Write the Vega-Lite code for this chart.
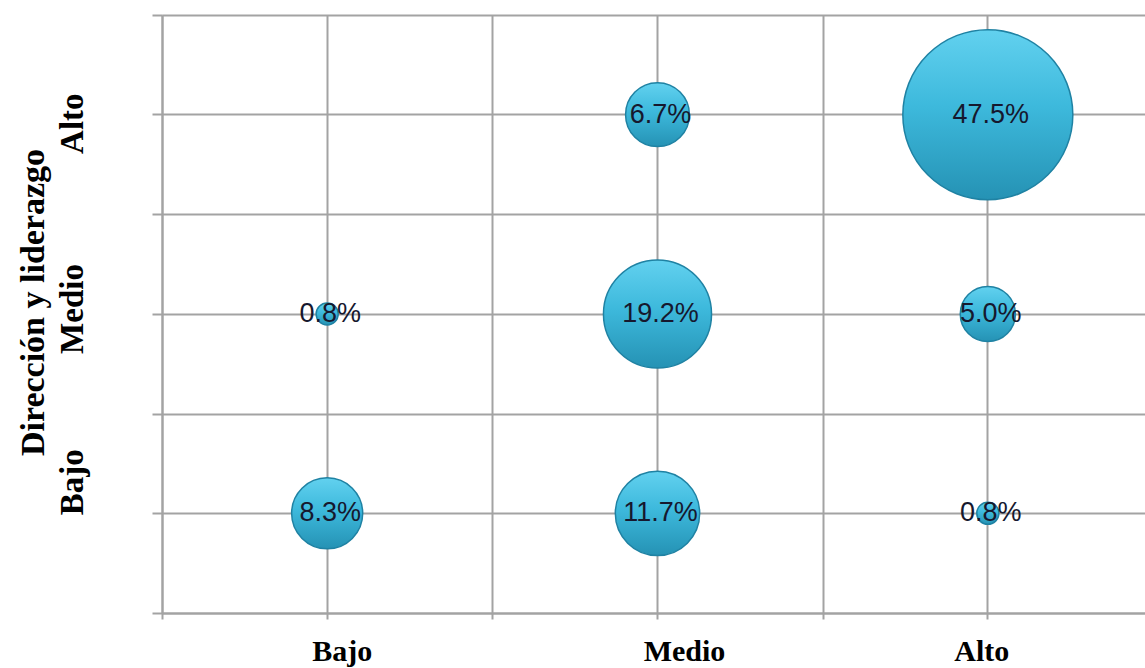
{
  "$schema": "https://vega.github.io/schema/vega-lite/v6.json",
  "width": 991,
  "height": 598,
  "autosize": "none",
  "padding": {"left": 162, "top": 15, "right": 0, "bottom": 55},
  "background": "white",
  "config": {
    "view": {"stroke": null},
    "axis": {"gridColor": "#a3a3a3", "gridWidth": 2, "tickColor": "#a3a3a3", "tickWidth": 2, "domainColor": "#a3a3a3", "domainWidth": 2, "zindex": 0}
  },
  "data": {
    "values": [
      {"nivel": "Bajo", "direccion": "Medio", "pct": 0.008},
      {"nivel": "Bajo", "direccion": "Bajo", "pct": 0.083},
      {"nivel": "Medio", "direccion": "Alto", "pct": 0.067},
      {"nivel": "Medio", "direccion": "Medio", "pct": 0.192},
      {"nivel": "Medio", "direccion": "Bajo", "pct": 0.117},
      {"nivel": "Alto", "direccion": "Alto", "pct": 0.475},
      {"nivel": "Alto", "direccion": "Medio", "pct": 0.050},
      {"nivel": "Alto", "direccion": "Bajo", "pct": 0.008}
    ]
  },
  "layer": [
    {
      "mark": {
        "type": "circle",
        "opacity": 1,
        "stroke": "#1f82a3",
        "strokeWidth": 1.5,
        "color": {
          "gradient": "linear",
          "x1": 0, "y1": 0, "x2": 0, "y2": 1,
          "stops": [
            {"offset": 0, "color": "#62d1ef"},
            {"offset": 0.45, "color": "#3db9dc"},
            {"offset": 1, "color": "#2592b4"}
          ]
        }
      },
      "encoding": {
        "x": {
          "field": "nivel", "type": "nominal", "sort": ["Bajo", "Medio", "Alto"],
          "scale": {"type": "band", "paddingInner": 0, "paddingOuter": 0},
          "axis": {
            "orient": "bottom", "title": null, "bandPosition": 0.5,
            "labelAngle": 0, "labelFont": "Liberation Serif", "labelFontSize": 30, "labelFontWeight": "bold",
            "labelColor": "#000000", "labelPadding": 17, "tickSize": 6, "grid": true, "domain": true,
            "labelOffset": {"expr": "datum.value === 'Bajo' ? 15 : datum.value === 'Medio' ? 27 : -6"}
          }
        },
        "y": {
          "field": "direccion", "type": "nominal", "sort": ["Alto", "Medio", "Bajo"],
          "scale": {"type": "band", "paddingInner": 0, "paddingOuter": 0},
          "axis": {
            "orient": "left", "bandPosition": 0.5,
            "title": "Dirección y liderazgo",
            "titleFont": "Liberation Serif", "titleFontSize": 34, "titleFontWeight": "bold", "titleColor": "#000000",
            "titleAngle": -90, "titleAlign": "center", "titleBaseline": "middle", "titleX": -129, "titleY": 287,
            "labelAngle": -90, "labelAlign": "center", "labelBaseline": "middle",
            "labelFont": "Liberation Serif", "labelFontSize": 33, "labelFontWeight": "bold", "labelColor": "#000000",
            "labelPadding": 80, "tickSize": 10, "grid": true, "domain": true,
            "labelOffset": {"expr": "datum.value === 'Bajo' ? -31 : datum.value === 'Medio' ? -5 : 9"}
          }
        },
        "size": {
          "field": "pct", "type": "quantitative",
          "scale": {"domain": [0, 0.475], "range": [0, 28900], "nice": false, "zero": true},
          "legend": null
        }
      }
    },
    {
      "mark": {"type": "text", "font": "Liberation Sans", "fontSize": 27, "color": "#16182e", "align": "center", "baseline": "middle", "dx": 3},
      "encoding": {
        "x": {
          "field": "nivel", "type": "nominal", "sort": ["Bajo", "Medio", "Alto"],
          "axis": {"orient": "bottom", "title": null, "tickBand": "extent", "labels": false, "ticks": true, "tickSize": 6, "grid": true, "domain": false}
        },
        "y": {
          "field": "direccion", "type": "nominal", "sort": ["Alto", "Medio", "Bajo"],
          "axis": {"orient": "left", "title": null, "tickBand": "extent", "labels": false, "ticks": true, "tickSize": 10, "grid": true, "domain": false}
        },
        "text": {"field": "pct", "type": "quantitative", "format": ".1%"}
      }
    }
  ],
  "resolve": {"axis": {"x": "independent", "y": "independent"}}
}
